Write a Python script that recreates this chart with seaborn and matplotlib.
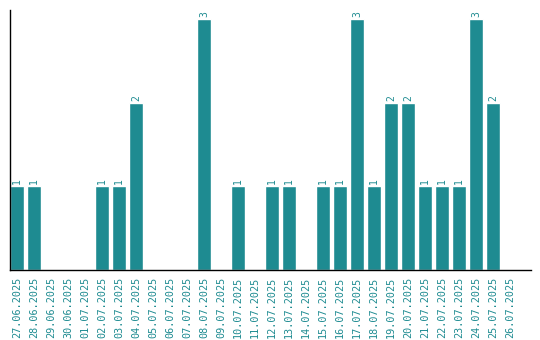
import matplotlib
matplotlib.use("Agg")
import matplotlib.pyplot as plt
import seaborn as sns
import pandas as pd

dates = ["27.06.2025", "28.06.2025", "29.06.2025", "30.06.2025", "01.07.2025",
         "02.07.2025", "03.07.2025", "04.07.2025", "05.07.2025", "06.07.2025",
         "07.07.2025", "08.07.2025", "09.07.2025", "10.07.2025", "11.07.2025",
         "12.07.2025", "13.07.2025", "14.07.2025", "15.07.2025", "16.07.2025",
         "17.07.2025", "18.07.2025", "19.07.2025", "20.07.2025", "21.07.2025",
         "22.07.2025", "23.07.2025", "24.07.2025", "25.07.2025", "26.07.2025"]
counts = [1, 1, 0, 0, 0, 1, 1, 2, 0, 0, 0, 3, 0, 1, 0, 1, 1, 0, 1, 1,
          3, 1, 2, 2, 1, 1, 1, 3, 2, 0]

color = "#1e8b91"
df = pd.DataFrame({"date": dates, "count": counts})

sns.set_style("white")
plt.rcParams["font.family"] = ["DejaVu Sans Mono", "DejaVu Sans"]

fig = plt.figure(figsize=(5.4, 3.4), dpi=100)
ax = fig.add_axes([10 / 540, 70 / 340, 521 / 540, 260 / 340])
sns.barplot(data=df, x="date", y="count", color=color, saturation=1,
            width=0.824, ax=ax, order=dates)
for p, v in zip(ax.patches, counts):
    if v > 0:
        ax.text(p.get_x() + p.get_width() / 2, v + 0.025, str(v), rotation=90,
                ha="center", va="bottom", color=color, fontsize=7)
ax.set_ylim(0, 3.11)
ax.set_xlim(-0.412, 30.24)
ax.set_xlabel("")
ax.set_ylabel("")
ax.set_yticks([])
ax.tick_params(axis="x", length=0, pad=5, labelsize=7.3, labelcolor=color)
plt.setp(ax.get_xticklabels(), rotation=90)
for s in ["top", "right"]:
    ax.spines[s].set_visible(False)
for s in ["left", "bottom"]:
    ax.spines[s].set_color("black")
    ax.spines[s].set_linewidth(1)
fig.savefig("out.png", dpi=100)
